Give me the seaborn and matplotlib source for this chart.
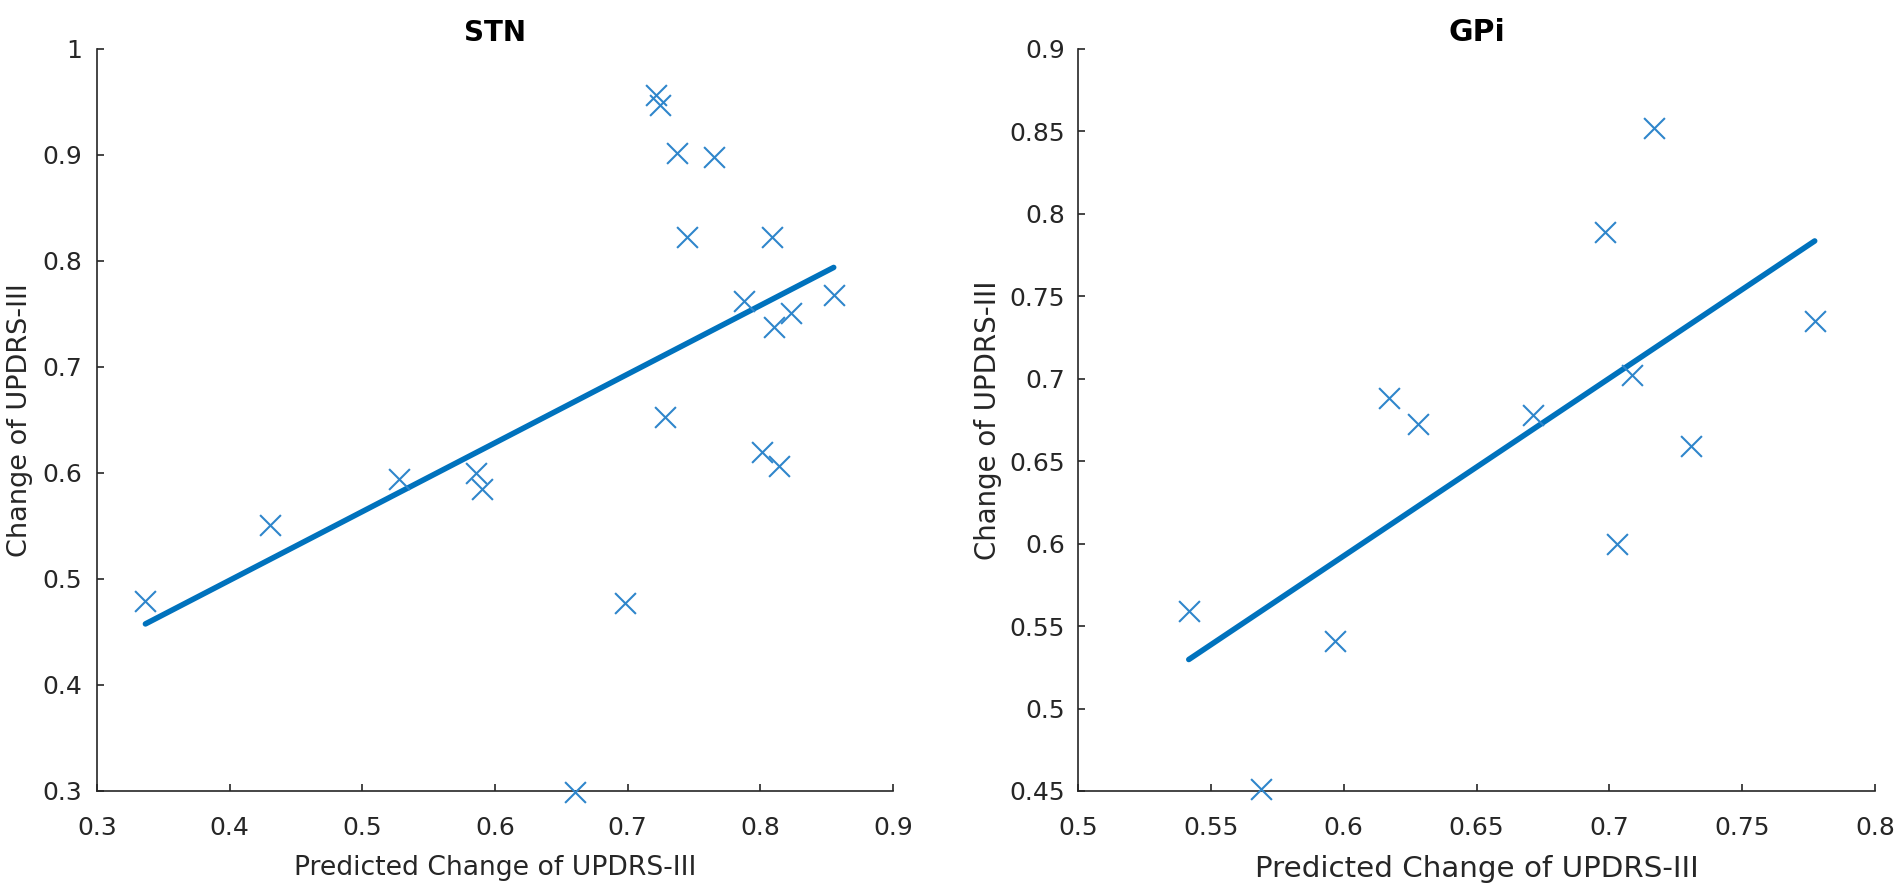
import numpy as np
import matplotlib
matplotlib.use("Agg")
import matplotlib.pyplot as plt
import seaborn as sns
from matplotlib.ticker import FuncFormatter

# STN: predicted vs observed change of UPDRS-III
stn_pred = [0.3365, 0.4306, 0.528, 0.586, 0.590, 0.660, 0.698, 0.7215, 0.7247, 0.7279,
            0.7374, 0.745, 0.7648, 0.7877, 0.8014, 0.809, 0.8105, 0.8137, 0.8233, 0.8553]
stn_change = [0.479, 0.5506, 0.594, 0.600, 0.585, 0.299, 0.477, 0.957, 0.947, 0.653,
              0.902, 0.823, 0.898, 0.762, 0.620, 0.823, 0.738, 0.607, 0.751, 0.768]

# GPi
gpi_pred = [0.5417, 0.5687, 0.5969, 0.6172, 0.6278, 0.6713, 0.6985, 0.7027, 0.7086,
            0.7169, 0.7306, 0.7773]
gpi_change = [0.5593, 0.451, 0.5407, 0.6883, 0.6728, 0.6778, 0.7893, 0.5996, 0.702,
              0.8522, 0.6593, 0.7353]

stn_xticks = [0.3, 0.4, 0.5, 0.6, 0.7, 0.8, 0.9]
stn_yticks = [0.3, 0.4, 0.5, 0.6, 0.7, 0.8, 0.9, 1.0]
gpi_xticks = [0.5, 0.55, 0.6, 0.65, 0.7, 0.75, 0.8]
gpi_yticks = [0.45, 0.5, 0.55, 0.6, 0.65, 0.7, 0.75, 0.8, 0.85, 0.9]

BLUE = "#0072BD"
MARKER_BLUE = "#2F86CB"
GREY = "#262626"

sns.set_style("ticks")
plt.rcParams["font.family"] = ["DejaVu Sans"]
plt.rcParams["axes.edgecolor"] = GREY
plt.rcParams["xtick.color"] = GREY
plt.rcParams["ytick.color"] = GREY

fig = plt.figure(figsize=(19.02, 8.92), dpi=100)
ax1 = fig.add_axes([97 / 1902, 1 - 791 / 892, 796 / 1902, 742 / 892])
ax2 = fig.add_axes([1078 / 1902, 1 - 791 / 892, 797 / 1902, 742 / 892])

panels = [
    (ax1, stn_pred, stn_change, "STN", stn_xticks, stn_yticks, 19.2, 19.5, 20, 10.8, -0.080),
    (ax2, gpi_pred, gpi_change, "GPi", gpi_xticks, gpi_yticks, 21.2, 19.9, 21.5, 9.4, -0.095),
]

fmt = FuncFormatter(lambda v, p: f"{v:g}")

for ax, x, y, title, xt, yt, xls, yls, ts, ypad, ylx in panels:
    sns.regplot(x=x, y=y, ax=ax, ci=None, marker="x", color=BLUE,
                scatter_kws={"s": 225, "linewidths": 1.5, "alpha": 1, "color": MARKER_BLUE,
                             "clip_on": False, "zorder": 4},
                line_kws={"linewidth": 4, "color": BLUE, "zorder": 3})
    ax.set_xlim(xt[0], xt[-1])
    ax.set_ylim(yt[0], yt[-1])
    ax.set_xticks(xt)
    ax.set_yticks(yt)
    ax.xaxis.set_major_formatter(fmt)
    ax.yaxis.set_major_formatter(fmt)
    ax.tick_params(direction="in", length=5, width=1.2, labelsize=18, labelcolor=GREY)
    ax.tick_params(axis="x", pad=18)
    ax.tick_params(axis="y", pad=ypad)
    for s in ["left", "bottom"]:
        ax.spines[s].set_linewidth(1.2)
    sns.despine(ax=ax)
    ax.set_title(title, fontsize=ts, fontweight="bold", color="black", pad=6)
    ax.set_xlabel("Predicted Change of UPDRS-III", fontsize=xls, color=GREY, labelpad=11)
    ax.set_ylabel("Change of UPDRS-III", fontsize=yls, color=GREY)
    ax.yaxis.set_label_coords(ylx, 0.5)

plt.savefig("out.png", dpi=100)
